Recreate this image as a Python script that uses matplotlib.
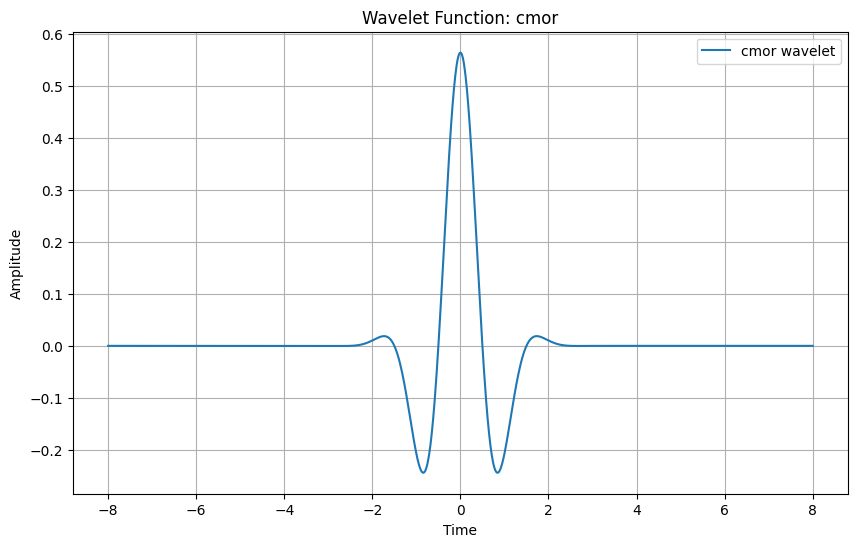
import numpy as np
import matplotlib
matplotlib.use('Agg')
from matplotlib import pyplot as plt

wavelet_name = 'cmor'
# cmor wavelet parameters (bandwidth, center frequency) and sampling range
bandwidth = 1.0
center_freq = 0.5
t_min, t_max, n_points = -8, 8, 1024

t = np.linspace(t_min, t_max, n_points)
psi = np.exp(-t ** 2 / bandwidth) * np.cos(2 * np.pi * center_freq * t) / np.sqrt(np.pi * bandwidth)

plt.figure(figsize=(10, 6))
plt.plot(t, psi, label=wavelet_name + ' wavelet')
plt.title('Wavelet Function: ' + wavelet_name)
plt.xlabel('Time')
plt.ylabel('Amplitude')
plt.grid(True)
plt.legend()
plt.savefig('out.png', dpi=100, bbox_inches='tight')
